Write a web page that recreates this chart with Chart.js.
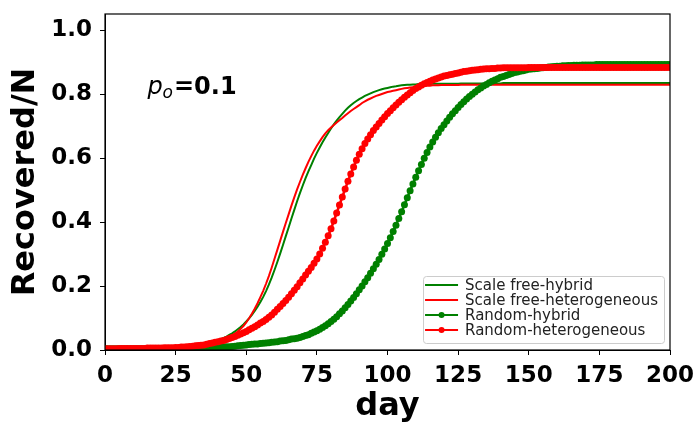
<!DOCTYPE html>
<html>
<head>
<meta charset="utf-8">
<script src="https://cdn.jsdelivr.net/npm/chart.js@4.4.1/dist/chart.umd.min.js"></script>
<style>
  html, body { margin: 0; padding: 0; background: #fff; }
  #wrap { width: 694px; height: 426px; }
</style>
</head>
<body>
<div id="wrap"><canvas id="recoveredChart" width="694" height="426"></canvas></div>
<script>
// recovered fraction per day, day 0 .. 200
const scaleFreeHybrid = [
  0.004,0.004,0.004,0.004,0.004,0.004,0.004,0.004,0.004,0.004,
  0.004,0.004,0.004,0.004,0.004,0.005,0.005,0.005,0.005,0.005,
  0.005,0.005,0.006,0.006,0.006,0.007,0.007,0.008,0.009,0.010,
  0.011,0.012,0.013,0.015,0.016,0.018,0.020,0.022,0.025,0.028,
  0.031,0.034,0.038,0.042,0.047,0.052,0.058,0.065,0.072,0.080,
  0.089,0.099,0.110,0.122,0.135,0.150,0.166,0.184,0.204,0.226,
  0.250,0.275,0.301,0.328,0.356,0.383,0.411,0.438,0.465,0.490,
  0.514,0.537,0.558,0.578,0.598,0.616,0.633,0.649,0.664,0.678,
  0.692,0.705,0.717,0.728,0.738,0.748,0.757,0.765,0.772,0.778,
  0.784,0.789,0.794,0.798,0.802,0.806,0.809,0.812,0.815,0.817,
  0.819,0.821,0.823,0.824,0.826,0.827,0.828,0.829,0.829,0.830,
  0.830,0.831,0.831,0.831,0.831,0.831,0.832,0.832,0.832,0.832,
  0.832,0.832,0.832,0.832,0.832,0.832,0.833,0.833,0.833,0.833,
  0.833,0.833,0.833,0.833,0.833,0.833,0.833,0.833,0.833,0.833,
  0.833,0.834,0.834,0.834,0.834,0.834,0.834,0.834,0.834,0.834,
  0.834,0.834,0.834,0.834,0.834,0.834,0.834,0.834,0.834,0.834,
  0.834,0.834,0.834,0.834,0.834,0.834,0.834,0.834,0.834,0.834,
  0.834,0.834,0.834,0.834,0.834,0.834,0.834,0.834,0.834,0.834,
  0.834,0.834,0.834,0.834,0.834,0.834,0.834,0.834,0.834,0.834,
  0.834,0.834,0.834,0.834,0.834,0.834,0.834,0.834,0.834,0.834,
  0.834
];
const scaleFreeHetero = [
  0.004,0.004,0.004,0.004,0.004,0.004,0.004,0.004,0.004,0.004,
  0.004,0.004,0.004,0.004,0.004,0.004,0.005,0.005,0.005,0.005,
  0.005,0.005,0.005,0.006,0.006,0.006,0.007,0.007,0.008,0.009,
  0.009,0.010,0.011,0.012,0.013,0.015,0.016,0.018,0.020,0.022,
  0.025,0.028,0.031,0.035,0.040,0.045,0.051,0.058,0.066,0.075,
  0.086,0.099,0.113,0.129,0.146,0.165,0.185,0.207,0.231,0.257,
  0.285,0.313,0.341,0.369,0.397,0.424,0.451,0.477,0.502,0.525,
  0.547,0.568,0.588,0.606,0.623,0.638,0.652,0.665,0.677,0.687,
  0.695,0.703,0.711,0.718,0.725,0.733,0.740,0.747,0.753,0.759,
  0.765,0.772,0.777,0.782,0.786,0.790,0.794,0.797,0.800,0.803,
  0.806,0.808,0.810,0.812,0.814,0.816,0.818,0.819,0.820,0.821,
  0.822,0.823,0.824,0.825,0.826,0.826,0.827,0.827,0.827,0.828,
  0.828,0.828,0.828,0.828,0.828,0.828,0.829,0.829,0.829,0.829,
  0.829,0.829,0.829,0.829,0.829,0.829,0.829,0.829,0.829,0.829,
  0.829,0.829,0.829,0.829,0.829,0.829,0.829,0.829,0.829,0.829,
  0.829,0.829,0.829,0.829,0.829,0.829,0.829,0.829,0.829,0.829,
  0.829,0.829,0.829,0.829,0.829,0.829,0.829,0.829,0.829,0.829,
  0.829,0.829,0.829,0.829,0.829,0.829,0.829,0.829,0.829,0.829,
  0.829,0.829,0.829,0.829,0.829,0.829,0.829,0.829,0.829,0.829,
  0.829,0.829,0.829,0.829,0.829,0.829,0.829,0.829,0.829,0.829,
  0.829
];
const randomHybrid = [
  0.004,0.004,0.004,0.004,0.004,0.004,0.004,0.004,0.004,0.004,
  0.004,0.004,0.004,0.004,0.004,0.004,0.004,0.004,0.004,0.004,
  0.004,0.005,0.005,0.005,0.005,0.005,0.005,0.005,0.005,0.005,
  0.005,0.005,0.006,0.006,0.006,0.006,0.007,0.007,0.007,0.008,
  0.008,0.009,0.009,0.010,0.010,0.011,0.012,0.013,0.014,0.015,
  0.016,0.017,0.018,0.019,0.019,0.020,0.021,0.022,0.023,0.024,
  0.025,0.026,0.028,0.029,0.030,0.032,0.034,0.035,0.037,0.039,
  0.042,0.045,0.048,0.052,0.056,0.060,0.065,0.070,0.076,0.082,
  0.089,0.096,0.104,0.113,0.122,0.132,0.142,0.153,0.164,0.176,
  0.188,0.200,0.213,0.226,0.240,0.254,0.268,0.283,0.299,0.316,
  0.333,0.351,0.370,0.390,0.411,0.432,0.454,0.476,0.498,0.519,
  0.540,0.560,0.580,0.599,0.617,0.634,0.650,0.665,0.679,0.692,
  0.704,0.716,0.727,0.738,0.748,0.758,0.767,0.776,0.784,0.792,
  0.799,0.806,0.813,0.819,0.825,0.830,0.835,0.840,0.844,0.848,
  0.852,0.855,0.858,0.861,0.864,0.867,0.869,0.871,0.873,0.875,
  0.877,0.878,0.879,0.880,0.881,0.882,0.883,0.884,0.885,0.886,
  0.887,0.887,0.888,0.888,0.889,0.889,0.890,0.890,0.890,0.891,
  0.891,0.891,0.891,0.891,0.892,0.892,0.892,0.892,0.892,0.892,
  0.892,0.892,0.892,0.892,0.892,0.892,0.892,0.892,0.892,0.892,
  0.892,0.892,0.892,0.892,0.892,0.892,0.892,0.892,0.892,0.892,
  0.892
];
const randomHetero = [
  0.004,0.004,0.004,0.004,0.004,0.005,0.005,0.005,0.005,0.005,
  0.005,0.005,0.005,0.005,0.005,0.006,0.006,0.006,0.006,0.006,
  0.006,0.007,0.007,0.007,0.007,0.008,0.008,0.009,0.009,0.010,
  0.011,0.012,0.013,0.014,0.015,0.016,0.018,0.020,0.022,0.024,
  0.026,0.028,0.030,0.033,0.036,0.039,0.042,0.046,0.050,0.054,
  0.058,0.063,0.068,0.073,0.078,0.084,0.089,0.095,0.102,0.109,
  0.118,0.127,0.136,0.145,0.155,0.165,0.176,0.187,0.198,0.210,
  0.222,0.234,0.246,0.258,0.271,0.284,0.300,0.318,0.337,0.357,
  0.379,0.403,0.428,0.453,0.478,0.503,0.527,0.550,0.572,0.593,
  0.612,0.629,0.645,0.659,0.673,0.686,0.697,0.708,0.719,0.729,
  0.739,0.748,0.757,0.766,0.774,0.782,0.790,0.797,0.804,0.811,
  0.817,0.822,0.827,0.832,0.836,0.840,0.844,0.847,0.850,0.853,
  0.856,0.858,0.860,0.862,0.864,0.866,0.868,0.870,0.871,0.873,
  0.874,0.875,0.876,0.877,0.878,0.879,0.879,0.880,0.880,0.881,
  0.881,0.882,0.882,0.882,0.882,0.882,0.882,0.882,0.882,0.882,
  0.883,0.883,0.883,0.883,0.883,0.883,0.883,0.883,0.883,0.883,
  0.883,0.883,0.883,0.883,0.883,0.883,0.883,0.883,0.883,0.883,
  0.883,0.883,0.883,0.883,0.883,0.883,0.883,0.883,0.883,0.883,
  0.883,0.883,0.883,0.883,0.883,0.883,0.883,0.883,0.883,0.883,
  0.883,0.883,0.883,0.883,0.883,0.883,0.883,0.883,0.883,0.883,
  0.883
];

const seriesLabels = ['Scale free-hybrid', 'Scale free-heterogeneous', 'Random-hybrid', 'Random-heterogeneous'];
const xTicks = [0, 25, 50, 75, 100, 125, 150, 175, 200];
const yTicks = [0.0, 0.2, 0.4, 0.6, 0.8, 1.0];
const noteText = { x: 15, y: 0.8, value: '0.1' };

const GREEN = '#008000';
const RED = '#ff0000';
const FONT = "'DejaVu Sans', sans-serif";

function toPoints(values) {
  return values.map((v, day) => ({ x: day, y: v }));
}

// spines, legend box and the p0 note
const extras = {
  id: 'extras',
  afterDatasetsDraw(chart) {
    const { ctx, chartArea: a } = chart;
    ctx.save();
    ctx.strokeStyle = '#000';
    ctx.lineWidth = 1.2;
    ctx.strokeRect(a.left, a.top, a.right - a.left, a.bottom - a.top);
    ctx.restore();
  },
  afterDraw(chart) {
    const { ctx, chartArea: a } = chart;
    const xs = chart.scales.x, ys = chart.scales.y;

    // p_o = 0.1
    ctx.save();
    let px = xs.getPixelForValue(noteText.x);
    const py = ys.getPixelForValue(noteText.y);
    ctx.fillStyle = '#000';
    ctx.textBaseline = 'alphabetic';
    ctx.font = 'italic 24px ' + FONT;
    ctx.fillText('p', px, py);
    px += ctx.measureText('p').width;
    ctx.font = 'italic 17px ' + FONT;
    ctx.fillText('o', px, py + 4);
    px += ctx.measureText('o').width + 1;
    ctx.font = 'bold 24px ' + FONT;
    ctx.fillText('=' + noteText.value, px, py);
    ctx.restore();

    // legend
    ctx.save();
    ctx.font = '15px ' + FONT;
    const rowH = 15;
    const lineLen = 33;
    let textW = 0;
    chart.data.datasets.forEach(ds => { textW = Math.max(textW, ctx.measureText(ds.label).width); });
    const boxW = 2 + lineLen + 7 + textW + 6;
    const boxH = rowH * 4 + 7;
    const bx = a.right - 6 - boxW;
    const by = a.bottom - 7 - boxH;
    ctx.beginPath();
    ctx.roundRect(bx + 0.5, by + 0.5, boxW, boxH, 3);
    ctx.fillStyle = 'rgba(255,255,255,0.8)';
    ctx.fill();
    ctx.strokeStyle = '#cccccc';
    ctx.lineWidth = 1;
    ctx.stroke();
    chart.data.datasets.forEach((ds, i) => {
      const cy = by + 9 + i * rowH;
      const lx = bx + 2;
      ctx.strokeStyle = ds.borderColor;
      ctx.lineWidth = 2;
      ctx.beginPath();
      ctx.moveTo(lx, cy);
      ctx.lineTo(lx + lineLen, cy);
      ctx.stroke();
      if (ds.pointRadius > 0) {
        ctx.fillStyle = ds.borderColor;
        ctx.beginPath();
        ctx.arc(lx + lineLen / 2, cy, 3, 0, Math.PI * 2);
        ctx.fill();
      }
      ctx.fillStyle = '#222';
      ctx.textBaseline = 'middle';
      ctx.fillText(ds.label, lx + lineLen + 7, cy + 1);
    });
    ctx.restore();
  }
};

const ctx = document.getElementById('recoveredChart').getContext('2d');
const recoveredChart = new Chart(ctx, {
  type: 'line',
  data: {
    datasets: [
      { label: seriesLabels[0], data: toPoints(scaleFreeHybrid), borderColor: GREEN, borderWidth: 2, pointRadius: 0, order: 3 },
      { label: seriesLabels[1], data: toPoints(scaleFreeHetero), borderColor: RED, borderWidth: 2, pointRadius: 0, order: 2 },
      { label: seriesLabels[2], data: toPoints(randomHybrid), borderColor: GREEN, backgroundColor: GREEN, borderWidth: 2.5,
        pointRadius: 3.5, pointBorderWidth: 0, pointBackgroundColor: GREEN, order: 1 },
      { label: seriesLabels[3], data: toPoints(randomHetero), borderColor: RED, backgroundColor: RED, borderWidth: 2.5,
        pointRadius: 3.5, pointBorderWidth: 0, pointBackgroundColor: RED, order: 0 }
    ]
  },
  options: {
    responsive: false,
    animation: false,
    events: [],
    layout: { padding: { left: 0, right: 24, top: 14, bottom: 0 } },
    plugins: {
      legend: { display: false },
      tooltip: { enabled: false }
    },
    scales: {
      x: {
        type: 'linear',
        min: 0,
        max: 200,
        afterBuildTicks: axis => { axis.ticks = xTicks.map(v => ({ value: v })); },
        afterFit: axis => {
          axis.height = 76;
          axis.paddingLeft = 0;
          axis.paddingRight = 0;
        },
        ticks: { color: '#000', font: { family: FONT, size: 23, weight: 'bold' }, padding: 7, maxRotation: 0, autoSkip: false },
        grid: { drawOnChartArea: false, drawTicks: true, tickLength: 5, color: '#000' },
        border: { display: true, color: '#000', width: 1 },
        title: { display: true, text: 'day', color: '#000', font: { family: FONT, size: 32, weight: 'bold' }, padding: { top: 0, bottom: 0 } }
      },
      y: {
        type: 'linear',
        min: 0,
        max: 1.05,
        afterBuildTicks: axis => { axis.ticks = yTicks.map(v => ({ value: v })); },
        afterFit: axis => {
          axis.width = 105;
          axis.paddingTop = 0;
          axis.paddingBottom = 0;
        },
        ticks: { color: '#000', font: { family: FONT, size: 23, weight: 'bold' }, padding: 8, callback: v => v.toFixed(1) },
        grid: { drawOnChartArea: false, drawTicks: true, tickLength: 5, color: '#000' },
        border: { display: true, color: '#000', width: 1 },
        title: { display: true, text: 'Recovered/N', color: '#000', font: { family: FONT, size: 32, weight: 'bold' }, padding: { top: 6, bottom: 0 } }
      }
    }
  },
  plugins: [extras]
});
</script>
</body>
</html>
